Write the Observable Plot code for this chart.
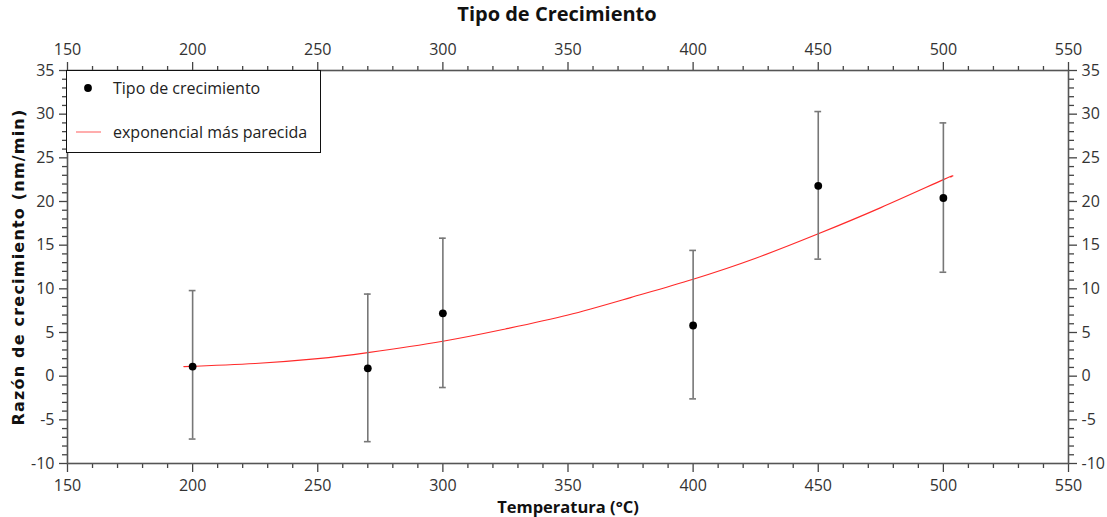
<!DOCTYPE html>
<html>
<head>
<meta charset="utf-8">
<script src="https://cdn.jsdelivr.net/npm/d3@7"></script>
<script src="https://cdn.jsdelivr.net/npm/@observablehq/plot@0.6"></script>
<style>
  html, body { margin: 0; padding: 0; background: #fff; }
  #wrap { position: relative; width: 1107px; height: 517px; overflow: hidden; }
  #title { height: 32px; line-height: 36px; text-align: center; font: bold 20px "Open Sans", sans-serif; color: #111; padding-left: 7px; }
  #legend { position: absolute; left: 66px; top: 70px; width: 253px; height: 81px; border: 1px solid #111; background: #fff; font: 16px "Open Sans", sans-serif; color: #222; }
  #legend .row { position: absolute; left: 0; height: 20px; line-height: 20px; }
  #legend .lbl { position: absolute; left: 46px; white-space: nowrap; }
  #legend svg { position: absolute; left: 0; top: 0; }
</style>
</head>
<body>
<div id="wrap">
  <div id="title">Tipo de Crecimiento</div>
  <div id="chart"></div>
  <div id="legend"></div>
</div>
<script>
// ---- data ----
const temps   = [200, 270, 300, 400, 450, 500];
const rates   = [1.1, 0.9, 7.2, 5.8, 21.8, 20.4];
const errLow  = [-7.2, -7.5, -1.3, -2.6, 13.4, 11.9];
const errHigh = [9.8, 9.4, 15.8, 14.4, 30.3, 29.0];

const fitX = [196.5, 225, 250, 270, 300, 325, 350, 375, 400, 425, 450, 475, 500, 503];
const fitY = [1.1, 1.45, 2.0, 2.7, 4.0, 5.4, 7.0, 9.0, 11.1, 13.5, 16.3, 19.3, 22.5, 22.8];

const xTicks = [150, 200, 250, 300, 350, 400, 450, 500, 550];
const yTicks = [-10, -5, 0, 5, 10, 15, 20, 25, 30, 35];

const seriesLabels = ["Tipo de crecimiento", "exponencial más parecida"];
const titleText = "Tipo de Crecimiento";
const xLabel = "Temperatura (°C)";
const yLabel = "Razón de crecimiento (nm/min)";

// ---- tables ----
const pts = temps.map((t, i) => ({x: t, y: rates[i], lo: errLow[i], hi: errHigh[i]}));
const fit = fitX.map((t, i) => ({x: t, y: fitY[i]}));
const xMinor = d3.range(150, 551, 10).filter(v => v % 50 !== 0);
const yMinor = d3.range(-10, 35.01, 1).filter(v => v % 5 !== 0);
const capHalf = 1.35;
const fmt = d => String(d);

document.getElementById("title").textContent = titleText;

const axisCol = "#444";
const plot = Plot.plot({
  width: 1107,
  height: 485,
  marginLeft: 67,
  marginRight: 39,
  marginTop: 38,
  marginBottom: 54,
  style: {fontFamily: "Open Sans, sans-serif", fontSize: "16px", color: "#333", background: "#fff", overflow: "visible"},
  x: {domain: [150, 550]},
  y: {domain: [-10, 35]},
  marks: [
    // minor ticks
    Plot.axisX(xMinor, {anchor: "bottom", tickSize: 5, text: null, stroke: axisCol, strokeWidth: 1.3, label: null}),
    Plot.axisX(xMinor, {anchor: "top", tickSize: 5, text: null, stroke: axisCol, strokeWidth: 1.3, label: null}),
    Plot.axisY(yMinor, {anchor: "left", tickSize: 5, text: null, stroke: axisCol, strokeWidth: 1.3, label: null}),
    Plot.axisY(yMinor, {anchor: "right", tickSize: 5, text: null, stroke: axisCol, strokeWidth: 1.3, label: null}),
    // major ticks
    Plot.axisX(xTicks, {anchor: "bottom", tickSize: 9, tickPadding: 7, tickFormat: fmt, stroke: axisCol, strokeWidth: 1.3, label: null}),
    Plot.axisX(xTicks, {anchor: "top", tickSize: 9, tickPadding: 7, tickFormat: fmt, stroke: axisCol, strokeWidth: 1.3, label: null}),
    Plot.axisY(yTicks, {anchor: "left", tickSize: 8, tickPadding: 5, tickFormat: fmt, stroke: axisCol, strokeWidth: 1.3, label: null}),
    Plot.axisY(yTicks, {anchor: "right", tickSize: 8, tickPadding: 5, tickFormat: fmt, stroke: axisCol, strokeWidth: 1.3, label: null}),
    Plot.frame({stroke: "#555", strokeWidth: 1.6}),
    // fit curve
    Plot.line(fit, {x: "x", y: "y", stroke: "#ff2a2a", strokeWidth: 1.2, curve: "natural"}),
    // error bars
    Plot.ruleX(pts, {x: "x", y1: "lo", y2: "hi", stroke: "#777", strokeWidth: 1.6}),
    Plot.ruleY(pts, {y: "lo", x1: d => d.x - capHalf, x2: d => d.x + capHalf, stroke: "#777", strokeWidth: 1.6}),
    Plot.ruleY(pts, {y: "hi", x1: d => d.x - capHalf, x2: d => d.x + capHalf, stroke: "#777", strokeWidth: 1.6}),
    // points
    Plot.dot(pts, {x: "x", y: "y", r: 3.9, fill: "#000", stroke: null}),
    // axis labels
    Plot.text([xLabel], {frameAnchor: "bottom", dy: 44, lineAnchor: "middle", fontWeight: "bold", fontSize: 16.5, fill: "#111"}),
    Plot.text([yLabel], {frameAnchor: "left", dx: -49, rotate: -90, textAnchor: "middle", lineAnchor: "middle", fontWeight: "bold", fontSize: 16, fontFamily: "DejaVu Sans, sans-serif", fill: "#111"})
  ]
});
document.getElementById("chart").appendChild(plot);
// widen the y label letter spacing like the reference
plot.querySelectorAll("text").forEach(t => {
  if (t.textContent === yLabel) t.style.letterSpacing = "1.2px";
});

// legend
const lg = document.getElementById("legend");
lg.innerHTML = `
  <svg width="253" height="81">
    <circle cx="21" cy="17" r="3.9" fill="#000"></circle>
    <line x1="9" x2="34" y1="61" y2="61" stroke="#ff8080" stroke-width="1.3"></line>
  </svg>
  <div class="row" style="top:7px"><span class="lbl">${seriesLabels[0]}</span></div>
  <div class="row" style="top:51px"><span class="lbl">${seriesLabels[1]}</span></div>`;
</script>
</body>
</html>
